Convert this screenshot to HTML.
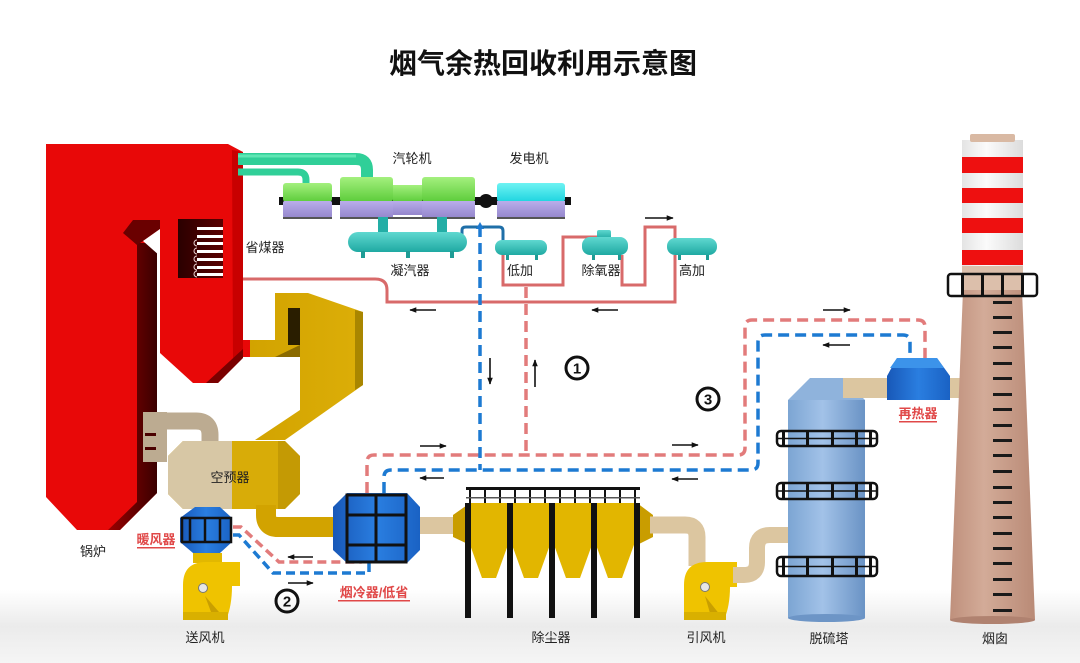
<!DOCTYPE html>
<html><head><meta charset="utf-8">
<style>
html,body{margin:0;padding:0;background:#fff;}
svg{display:block;}
text{font-family:"Liberation Sans","Noto Sans CJK SC",sans-serif;}
</style></head><body>
<svg width="1080" height="663" viewBox="0 0 1080 663" xmlns="http://www.w3.org/2000/svg">
<defs>
 <linearGradient id="floor" x1="0" y1="0" x2="0" y2="1">
  <stop offset="0" stop-color="#ffffff"/>
  <stop offset="0.5" stop-color="#ebebeb"/>
  <stop offset="1" stop-color="#f5f5f5"/>
 </linearGradient>
 <linearGradient id="dkside" x1="0" y1="0" x2="1" y2="0">
  <stop offset="0" stop-color="#9a0000"/>
  <stop offset="1" stop-color="#3a0000"/>
 </linearGradient>
 <linearGradient id="eco" x1="0" y1="0" x2="1" y2="0">
  <stop offset="0" stop-color="#2a0000"/>
  <stop offset="1" stop-color="#5a0000"/>
 </linearGradient>
 <linearGradient id="grn" x1="0" y1="0" x2="0" y2="1">
  <stop offset="0" stop-color="#a4f07e"/>
  <stop offset="1" stop-color="#5ccc3a"/>
 </linearGradient>
 <linearGradient id="pur" x1="0" y1="0" x2="0" y2="1">
  <stop offset="0" stop-color="#b9adea"/>
  <stop offset="1" stop-color="#9486cc"/>
 </linearGradient>
 <linearGradient id="cyn" x1="0" y1="0" x2="0" y2="1">
  <stop offset="0" stop-color="#6ff3f3"/>
  <stop offset="1" stop-color="#1ed4e0"/>
 </linearGradient>
 <linearGradient id="teal" x1="0" y1="0" x2="0" y2="1">
  <stop offset="0" stop-color="#5fd8d0"/>
  <stop offset="1" stop-color="#1fa9a2"/>
 </linearGradient>
 <linearGradient id="ylw" x1="0" y1="0" x2="1" y2="0">
  <stop offset="0" stop-color="#d2a300"/>
  <stop offset="1" stop-color="#dcae08"/>
 </linearGradient>
 <linearGradient id="tower" x1="0" y1="0" x2="1" y2="0">
  <stop offset="0" stop-color="#7ca5d3"/>
  <stop offset="0.45" stop-color="#a2c2e8"/>
  <stop offset="1" stop-color="#6a93c5"/>
 </linearGradient>
 <linearGradient id="chim" x1="0" y1="0" x2="1" y2="0">
  <stop offset="0" stop-color="#bf907c"/>
  <stop offset="0.4" stop-color="#d3ab98"/>
  <stop offset="1" stop-color="#b98a76"/>
 </linearGradient>
 <linearGradient id="chimTop" x1="0" y1="0" x2="1" y2="0">
  <stop offset="0" stop-color="#e4e4e4"/>
  <stop offset="0.4" stop-color="#fbfbfb"/>
  <stop offset="1" stop-color="#dcdcdc"/>
 </linearGradient>
 <linearGradient id="blu" x1="0" y1="0" x2="1" y2="0">
  <stop offset="0" stop-color="#1858b8"/>
  <stop offset="0.5" stop-color="#2a7ee0"/>
  <stop offset="1" stop-color="#1a62c4"/>
 </linearGradient>
 <marker id="ah" viewBox="0 0 10 10" refX="9" refY="5" markerWidth="7" markerHeight="7" orient="auto" markerUnits="userSpaceOnUse">
  <path d="M0,1 L10,5 L0,9 z" fill="#111"/>
 </marker>
</defs>

<rect width="1080" height="663" fill="#fff"/>
<rect x="0" y="590" width="1080" height="73" fill="url(#floor)"/>

<!-- Title -->
<text x="543" y="73" font-size="28" font-weight="bold" text-anchor="middle" fill="#111">烟气余热回收利用示意图</text>

<!-- feedwater solid red lines -->
<g fill="none" stroke="#d86a6a" stroke-width="3">
 <path d="M243 279 H375 Q387 279 387 290 V302 H675 V255"/>
 <path d="M503 255 V285 H563 V237 H600"/>
 <path d="M622 255 V285 H645 V227 H675 V240"/>
</g>
<!-- condensate solid blue -->
<path d="M462 240 V230 Q462 227 466 227 H499 Q503 227 503 231 V241" fill="none" stroke="#1f6fa8" stroke-width="3"/>

<!-- dashed loops -->
<g fill="none" stroke-width="3.5" stroke-dasharray="11 6">
 <path d="M526 287 V455" stroke="#e27b7b"/>
 <path d="M367 493 V462 Q367 455 374 455 H738 Q745 455 745 448 V327 Q745 320 752 320 H918 Q925 320 925 327 V360" stroke="#e27b7b"/>
 <path d="M480 226 V470" stroke="#1d7ad2"/>
 <path d="M384 493 V477 Q384 470 391 470 H751 Q758 470 758 463 V342 Q758 335 765 335 H903 Q910 335 910 342 V360" stroke="#1d7ad2"/>
 <path d="M233 527 H241 L279 562 H360 V556" stroke="#e27b7b" stroke-dasharray="9 5"/>
 <path d="M233 535 H239 L273 573 H369 V560" stroke="#1d7ad2" stroke-dasharray="9 5"/>
</g>
<path d="M476 229 L480 222 L484 229 Z" fill="#1d7ad2"/>

<!-- Boiler -->
<polygon points="46,144 228,144 243,152 243,357 218,383 193,383 160,353 160,250 157,250 157,493 120,530 77,530 46,497" fill="#e80808"/>
<polygon points="137,243 157,243 157,493 120,530 108,530 137,502" fill="url(#dkside)"/>
<polygon points="133,220 160,220 160,229 143,241 137,245 123,233" fill="#6a0000"/>
<polygon points="143,241 160,229 160,256" fill="#fff"/>
<rect x="157" y="250" width="3" height="104" fill="#fff"/>
<polygon points="232,150 243,152 243,357 233,364" fill="#c80000"/>
<polygon points="206,383 218,383 243,358 243,349" fill="#7a0000"/>
<rect x="243" y="340" width="8" height="17" fill="#e80808"/>
<!-- economizer -->
<rect x="178" y="219" width="45" height="59" fill="url(#eco)"/>
<g fill="#fff">
 <rect x="197" y="227" width="26" height="3"/>
 <rect x="197" y="235" width="26" height="3"/>
 <rect x="197" y="242" width="26" height="3"/>
 <rect x="197" y="250" width="26" height="3"/>
 <rect x="197" y="258" width="26" height="3"/>
 <rect x="197" y="266" width="26" height="3"/>
 <rect x="197" y="273" width="26" height="3"/>
</g>
<g fill="none" stroke="#e8d0d0" stroke-width="1">
 <path d="M197 240 A3 3 0 0 0 197 246"/>
 <path d="M197 248 A3 3 0 0 0 197 254"/>
 <path d="M197 256 A3 3 0 0 0 197 262"/>
 <path d="M197 264 A3 3 0 0 0 197 270"/>
 <path d="M197 271 A3 3 0 0 0 197 277"/>
</g>

<!-- Steam pipes -->
<path d="M238 159 H356 Q367 159 367 170 V180" fill="none" stroke="#30cf98" stroke-width="12"/>
<path d="M238 156 H356" fill="none" stroke="#5fe6b4" stroke-width="3"/>
<path d="M238 172 H298 Q306 172 306 180 V185" fill="none" stroke="#30cf98" stroke-width="7"/>

<!-- Turbine & generator -->
<rect x="279" y="197" width="292" height="8" fill="#111"/>
<rect x="283" y="183" width="49" height="19" rx="3" fill="url(#grn)"/>
<rect x="283" y="201" width="49" height="17" rx="2" fill="url(#pur)"/>
<rect x="340" y="177" width="53" height="25" rx="3" fill="url(#grn)"/>
<rect x="340" y="201" width="53" height="17" fill="url(#pur)"/>
<rect x="393" y="185" width="29" height="17" fill="url(#grn)"/>
<rect x="393" y="201" width="29" height="14" fill="url(#pur)"/>
<rect x="422" y="177" width="53" height="25" rx="3" fill="url(#grn)"/>
<rect x="422" y="201" width="53" height="17" fill="url(#pur)"/>
<rect x="340" y="217" width="135" height="2" fill="#555"/>
<circle cx="486" cy="201" r="7" fill="#111"/>
<rect x="497" y="183" width="68" height="19" rx="3" fill="url(#cyn)"/>
<rect x="497" y="201" width="68" height="17" fill="url(#pur)"/>
<rect x="497" y="217" width="68" height="2" fill="#555"/>
<rect x="283" y="217" width="49" height="2" fill="#555"/>

<!-- condenser & heaters -->
<rect x="378" y="217" width="10" height="17" fill="#23aea6"/>
<rect x="437" y="217" width="10" height="17" fill="#23aea6"/>
<rect x="348" y="232" width="119" height="20" rx="10" fill="url(#teal)"/>
<g fill="#1f9c95">
 <rect x="361" y="251" width="4" height="7"/>
 <rect x="406" y="251" width="4" height="7"/>
 <rect x="450" y="251" width="4" height="7"/>
 <rect x="506" y="254" width="3" height="6"/>
 <rect x="535" y="254" width="3" height="6"/>
 <rect x="592" y="254" width="3" height="6"/>
 <rect x="618" y="254" width="3" height="6"/>
 <rect x="678" y="254" width="3" height="6"/>
 <rect x="706" y="254" width="3" height="6"/>
</g>
<rect x="495" y="240" width="52" height="15" rx="7" fill="url(#teal)"/>
<rect x="597" y="230" width="14" height="9" rx="2" fill="url(#teal)"/>
<rect x="582" y="237" width="46" height="18" rx="8" fill="url(#teal)"/>
<rect x="667" y="238" width="50" height="17" rx="8" fill="url(#teal)"/>

<!-- yellow flue path from boiler -->
<polygon points="250,340 275,340 275,293 308,293 363,312 363,385 285,440 255,440 300,410 300,357 250,357" fill="url(#ylw)"/>
<polygon points="355,310 363,312 363,385 355,390" fill="#a98600"/>
<rect x="288" y="308" width="12" height="37" fill="#2a1e00"/>
<polygon points="275,357 300,345 300,357" fill="#8a6a00"/>

<!-- tan duct boiler -> air preheater -->
<path d="M150 421 H196 Q210 421 210 435 V450" fill="none" stroke="#bcab91" stroke-width="17"/>
<rect x="143" y="412" width="24" height="50" fill="#bcab91"/>
<rect x="145" y="433" width="11" height="3" fill="#4a0000"/>
<rect x="145" y="447" width="11" height="3" fill="#4a0000"/>

<!-- air preheater octagon -->
<polygon points="183,441 285,441 300,456 300,494 285,509 183,509 168,494 168,456" fill="#d8ac08"/>
<polygon points="183,441 232,441 232,509 183,509 168,494 168,456" fill="#d7c7a5"/>
<polygon points="285,441 300,456 300,494 285,509 278,509 278,441" fill="#b08800" opacity="0.5"/>

<!-- yellow duct preheater -> gas cooler -->
<path d="M266 505 V515 Q266 527 278 527 H340" fill="none" stroke="#d2a300" stroke-width="20"/>

<!-- heater (暖风器) -->
<polygon points="195,507 220,507 232,518 232,542 220,553 193,553 180,542 180,518" fill="url(#blu)"/>
<rect x="182" y="518" width="49" height="24" fill="none" stroke="#111" stroke-width="2.5"/>
<line x1="190" y1="518" x2="190" y2="542" stroke="#111" stroke-width="2.5"/>
<line x1="205" y1="518" x2="205" y2="542" stroke="#111" stroke-width="2.5"/>
<line x1="220" y1="518" x2="220" y2="542" stroke="#111" stroke-width="2.5"/>
<rect x="193" y="553" width="29" height="10" fill="#e2b800"/>

<!-- forced draft fan -->
<path d="M183 620 V585 Q183 562 206 562 H240 V586 H232 Q232 606 226 620 Z" fill="#efc300"/>
<path d="M205 596 L226 620 H214 Z" fill="#c99f00"/>
<rect x="183" y="612" width="45" height="8" fill="#d9b000"/>
<circle cx="203" cy="588" r="4.5" fill="#e6e6e6" stroke="#777" stroke-width="1"/>

<!-- gas cooler (烟冷器) -->
<polygon points="347,493 407,493 420,507 420,550 407,563 347,563 333,550 333,507" fill="url(#blu)"/>
<rect x="347" y="495" width="59" height="67" fill="none" stroke="#111" stroke-width="3"/>
<line x1="376" y1="495" x2="376" y2="562" stroke="#111" stroke-width="3"/>
<line x1="347" y1="515" x2="406" y2="515" stroke="#111" stroke-width="3"/>
<line x1="347" y1="545" x2="406" y2="545" stroke="#111" stroke-width="3"/>

<!-- tan duct to dust collector -->
<rect x="420" y="517" width="36" height="17" fill="#dcc6a0"/>

<!-- dust collector -->
<polygon points="453,515 470,503 470,545 453,537" fill="#c99d00"/>
<polygon points="653,515 637,503 637,545 653,537" fill="#c99d00"/>
<rect x="468" y="503" width="170" height="40" fill="#e2b600"/>
<g fill="#e2b600">
 <polygon points="469,542 509,542 496,578 482,578"/>
 <polygon points="511,542 551,542 538,578 524,578"/>
 <polygon points="553,542 593,542 580,578 566,578"/>
 <polygon points="595,542 635,542 622,578 608,578"/>
</g>
<g fill="#111">
 <rect x="465" y="503" width="6" height="115"/>
 <rect x="507" y="503" width="6" height="115"/>
 <rect x="549" y="503" width="6" height="115"/>
 <rect x="591" y="503" width="6" height="115"/>
 <rect x="634" y="503" width="6" height="115"/>
 <rect x="466" y="487" width="174" height="3"/>
 <rect x="469" y="487" width="2" height="16"/>
 <rect x="484" y="487" width="2" height="16"/>
 <rect x="499" y="487" width="2" height="16"/>
 <rect x="514" y="487" width="2" height="16"/>
 <rect x="529" y="487" width="2" height="16"/>
 <rect x="544" y="487" width="2" height="16"/>
 <rect x="559" y="487" width="2" height="16"/>
 <rect x="574" y="487" width="2" height="16"/>
 <rect x="589" y="487" width="2" height="16"/>
 <rect x="604" y="487" width="2" height="16"/>
 <rect x="619" y="487" width="2" height="16"/>
 <rect x="634" y="487" width="2" height="16"/>
</g>
<rect x="466" y="497" width="174" height="1.5" fill="#555"/>

<!-- duct to ID fan -->
<path d="M650 525 H685 Q697 525 697 537 V566" fill="none" stroke="#dcc6a0" stroke-width="17"/>

<!-- induced draft fan -->
<path d="M684 620 V585 Q684 562 707 562 H737 V587 H730 Q730 606 724 620 Z" fill="#efc300"/>
<path d="M705 596 L724 620 H712 Z" fill="#c99f00"/>
<rect x="684" y="612" width="42" height="8" fill="#d9b000"/>
<circle cx="705" cy="587" r="4.5" fill="#e6e6e6" stroke="#777" stroke-width="1"/>

<!-- S-duct to desulfurization tower -->
<path d="M733 575 H744 Q757 575 757 562 V548 Q757 535 770 535 H792" fill="none" stroke="#dcc6a0" stroke-width="16"/>

<!-- desulfurization tower -->
<polygon points="810,378 843,378 865,400 788,400" fill="#8fb3dc"/>
<rect x="788" y="400" width="77" height="218" fill="url(#tower)"/>
<ellipse cx="826.5" cy="618" rx="38.5" ry="4" fill="#6d95c6"/>
<g fill="none" stroke="#111" stroke-width="2.5">
 <rect x="777" y="431" width="100" height="15" rx="4"/>
 <line x1="777" y1="438.5" x2="877" y2="438.5" stroke-width="1.5"/>
 <rect x="777" y="483" width="100" height="16" rx="4"/>
 <line x1="777" y1="491" x2="877" y2="491" stroke-width="1.5"/>
 <rect x="777" y="557" width="100" height="19" rx="4"/>
 <line x1="777" y1="566.5" x2="877" y2="566.5" stroke-width="1.5"/>
</g>
<g fill="#111">
 <rect x="782" y="431" width="3" height="15"/><rect x="806" y="431" width="3" height="15"/><rect x="831" y="431" width="3" height="15"/><rect x="855" y="431" width="3" height="15"/><rect x="869" y="431" width="3" height="15"/>
 <rect x="782" y="483" width="3" height="16"/><rect x="806" y="483" width="3" height="16"/><rect x="831" y="483" width="3" height="16"/><rect x="855" y="483" width="3" height="16"/><rect x="869" y="483" width="3" height="16"/>
 <rect x="782" y="557" width="3" height="19"/><rect x="806" y="557" width="3" height="19"/><rect x="831" y="557" width="3" height="19"/><rect x="855" y="557" width="3" height="19"/><rect x="869" y="557" width="3" height="19"/>
</g>

<!-- duct to chimney & reheater -->
<rect x="843" y="378" width="124" height="20" fill="#dcc6a0"/>
<polygon points="897,358 937,358 950,376 950,400 887,400 887,376" fill="url(#blu)"/>
<polygon points="897,358 937,358 944,368 890,368" fill="#3c93ea"/>

<!-- chimney -->
<polygon points="963,290 1022,290 1035,620 950,620" fill="url(#chim)"/>
<ellipse cx="992.5" cy="620" rx="42.5" ry="4" fill="#b08270"/>
<rect x="962" y="140" width="61" height="150" fill="url(#chimTop)"/>
<rect x="962" y="266" width="61" height="24" fill="#dcbfab"/>
<rect x="970" y="134" width="45" height="8" rx="2" fill="#d9b9a3"/>
<g fill="#ee1010">
 <rect x="962" y="157" width="61" height="16"/>
 <rect x="962" y="188" width="61" height="15"/>
 <rect x="962" y="218" width="61" height="15"/>
 <rect x="962" y="250" width="61" height="15"/>
</g>
<g fill="none" stroke="#111" stroke-width="2.5">
 <rect x="948" y="274" width="89" height="22" rx="3"/>
</g>
<g fill="#111">
 <rect x="961" y="274" width="3" height="22"/><rect x="981" y="274" width="3" height="22"/><rect x="1001" y="274" width="3" height="22"/><rect x="1021" y="274" width="3" height="22"/>
</g>
<g fill="#1a1a1a">
 <rect x="993" y="301" width="19" height="3"/><rect x="993" y="316" width="19" height="3"/><rect x="993" y="331" width="19" height="3"/><rect x="993" y="346" width="19" height="3"/><rect x="993" y="362" width="19" height="3"/><rect x="993" y="377" width="19" height="3"/><rect x="993" y="393" width="19" height="3"/><rect x="993" y="408" width="19" height="3"/><rect x="993" y="424" width="19" height="3"/><rect x="993" y="439" width="19" height="3"/><rect x="993" y="454" width="19" height="3"/><rect x="993" y="470" width="19" height="3"/><rect x="993" y="486" width="19" height="3"/><rect x="993" y="501" width="19" height="3"/><rect x="993" y="516" width="19" height="3"/><rect x="993" y="532" width="19" height="3"/><rect x="993" y="547" width="19" height="3"/><rect x="993" y="562" width="19" height="3"/><rect x="993" y="578" width="19" height="3"/><rect x="993" y="593" width="19" height="3"/><rect x="993" y="609" width="19" height="3"/>
</g>

<!-- arrows -->
<g stroke="#111" stroke-width="1.6" marker-end="url(#ah)">
 <line x1="645" y1="218" x2="673" y2="218"/>
 <line x1="436" y1="310" x2="410" y2="310"/>
 <line x1="618" y1="310" x2="592" y2="310"/>
 <line x1="490" y1="358" x2="490" y2="384"/>
 <line x1="535" y1="387" x2="535" y2="360"/>
 <line x1="420" y1="446" x2="446" y2="446"/>
 <line x1="444" y1="478" x2="420" y2="478"/>
 <line x1="672" y1="445" x2="698" y2="445"/>
 <line x1="698" y1="479" x2="672" y2="479"/>
 <line x1="823" y1="310" x2="850" y2="310"/>
 <line x1="850" y1="345" x2="823" y2="345"/>
 <line x1="313" y1="557" x2="288" y2="557"/>
 <line x1="288" y1="583" x2="313" y2="583"/>
</g>

<!-- circled numbers -->
<g fill="none" stroke="#111" stroke-width="3">
 <circle cx="577" cy="368" r="11"/>
 <circle cx="287" cy="601" r="11"/>
 <circle cx="708" cy="399" r="11"/>
</g>
<g font-size="15" font-weight="bold" text-anchor="middle" fill="#111">
 <text x="577" y="373.5">1</text>
 <text x="287" y="606.5">2</text>
 <text x="708" y="404.5">3</text>
</g>

<!-- labels -->
<g font-size="13" fill="#222" text-anchor="middle">
 <text x="412" y="163">汽轮机</text>
 <text x="529" y="163">发电机</text>
 <text x="265" y="252">省煤器</text>
 <text x="410" y="275">凝汽器</text>
 <text x="520" y="275">低加</text>
 <text x="601" y="275">除氧器</text>
 <text x="692" y="275">高加</text>
 <text x="230" y="482">空预器</text>
 <text x="93" y="556">锅炉</text>
 <text x="205" y="642">送风机</text>
 <text x="551" y="642">除尘器</text>
 <text x="706" y="642">引风机</text>
 <text x="829" y="643">脱硫塔</text>
 <text x="995" y="643">烟囱</text>
</g>
<g font-size="13" fill="#e04848" text-anchor="middle" font-weight="bold">
 <text x="156" y="544">暖风器</text>
 <text x="374" y="597">烟冷器/低省</text>
 <text x="918" y="418">再热器</text>
</g>
<g fill="#e04848">
 <rect x="137" y="547" width="38" height="1.5"/>
 <rect x="338" y="600" width="72" height="1.5"/>
 <rect x="899" y="421" width="38" height="1.5"/>
</g>
</svg>
</body></html>
